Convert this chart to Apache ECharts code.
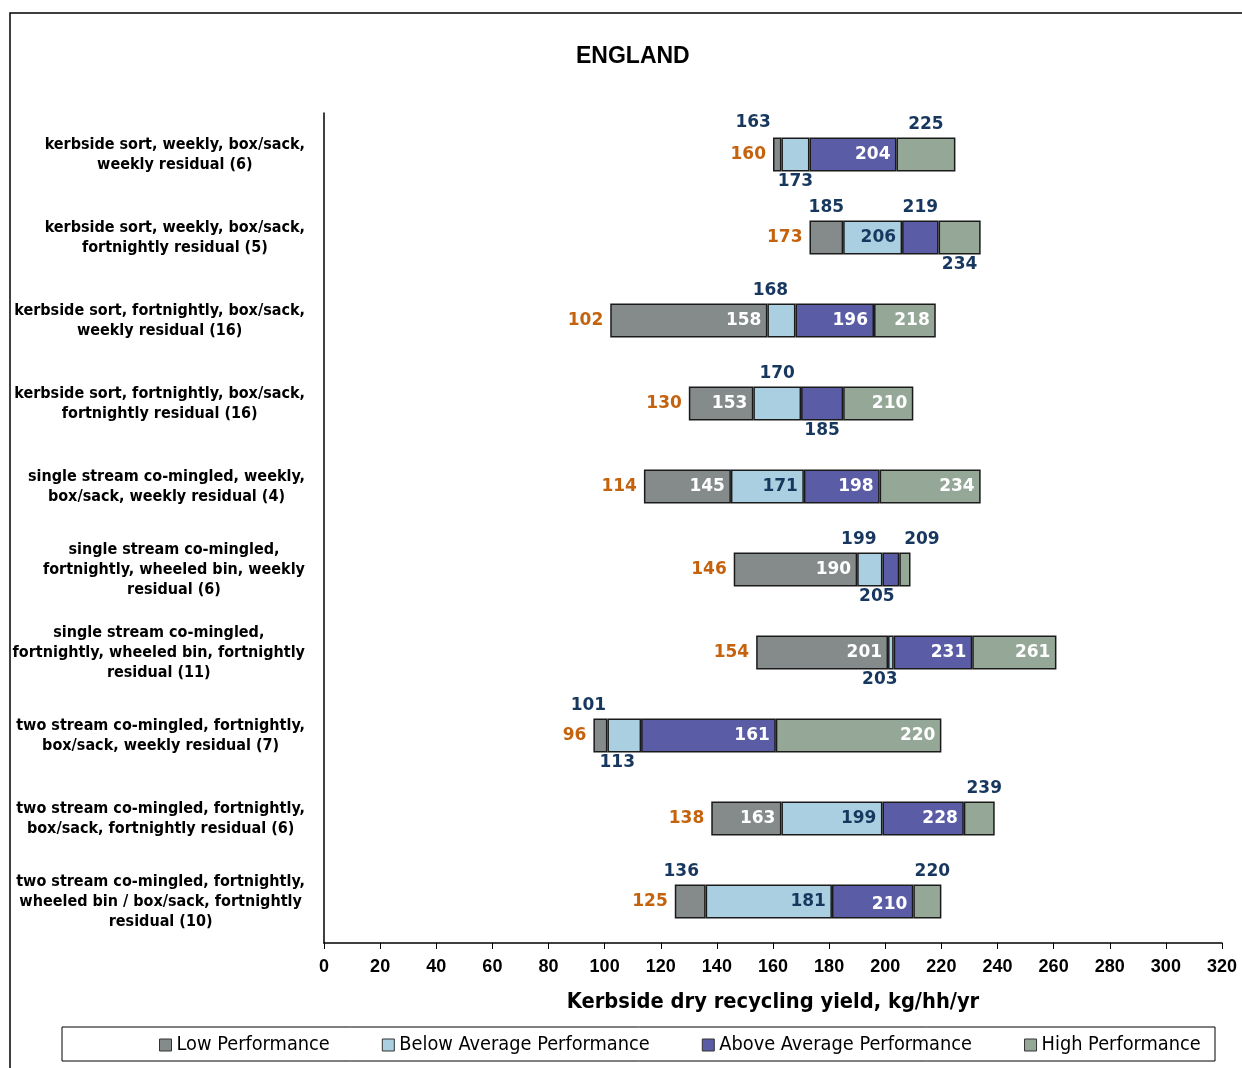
<!DOCTYPE html>
<html>
<head>
<meta charset="utf-8">
<script src="https://cdn.jsdelivr.net/npm/echarts@6/dist/echarts.min.js"></script>
<style>
html, body { margin: 0; padding: 0; background: #fff; }
#chart { width: 1242px; height: 1068px; }
</style>
</head>
<body>
<div id="chart"></div>
<script>
var categories = [
    'kerbside sort, weekly, box/sack,\nweekly residual (6)',
    'kerbside sort, weekly, box/sack,\nfortnightly residual (5)',
    'kerbside sort, fortnightly, box/sack,\nweekly residual (16)',
    'kerbside sort, fortnightly, box/sack,\nfortnightly residual (16)',
    'single stream co-mingled, weekly,\nbox/sack, weekly residual (4)',
    'single stream co-mingled,\nfortnightly, wheeled bin, weekly\nresidual (6)',
    'single stream co-mingled,\nfortnightly, wheeled bin, fortnightly\nresidual (11)',
    'two stream co-mingled, fortnightly,\nbox/sack, weekly residual (7)',
    'two stream co-mingled, fortnightly,\nbox/sack, fortnightly residual (6)',
    'two stream co-mingled, fortnightly,\nwheeled bin / box/sack, fortnightly\nresidual (10)'
];
var minVal = [160, 173, 102, 130, 114, 146, 154, 96, 138, 125];
var q1Val = [163, 185, 158, 153, 145, 190, 201, 101, 163, 136];
var medVal = [173, 206, 168, 170, 171, 199, 203, 113, 199, 181];
var q3Val = [204, 219, 196, 185, 198, 205, 231, 161, 228, 210];
var maxVal = [225, 234, 218, 210, 234, 209, 261, 220, 239, 220];
var seriesNames = ['Low Performance', 'Below Average Performance', 'Above Average Performance', 'High Performance'];
var xTicks = [0, 320, 20];

// where each value label sits: t = above bar, b = below bar, i = inside right
var labelPos = [
    ['t', 't', 'i', 'i', 'i', 'i', 'i', 't', 'i', 't'],
    ['b', 'i', 't', 't', 'i', 't', 'b', 'b', 'i', 'i'],
    ['i', 't', 'i', 'b', 'i', 'b', 'i', 'i', 'i', 'i'],
    ['t', 'b', 'i', 'i', 'i', 't', 'i', 'i', 't', 't']
];
// small nudges so labels don't collide
var labelNudge = {
    '0-0': [-24, -2], '0-7': [-12, 0], '0-9': [-9, 0],
    '1-2': [-11, 0], '1-5': [-11, 0], '1-6': [-11, 0], '1-7': [-7, 0],
    '2-5': [-14, 0], '2-9': [0, 3],
    '3-5': [17, 0], '3-8': [5, 0], '3-9': [5, 0]
};

var colors = ['#858b8b', '#a9cfe0', '#5a5ca6', '#95a898'];
var navy = '#17375e';
var orange = '#c4620d';
var numFont = "'DejaVu Sans', Verdana, sans-serif";
var textFont = "'DejaVu Sans Condensed', 'Noto Sans', sans-serif";

var ends = [q1Val, medVal, q3Val, maxVal];
var starts = [minVal, q1Val, medVal, q3Val];

var series = [{
    name: 'base',
    type: 'bar',
    stack: 'yield',
    barWidth: 34,
    silent: true,
    itemStyle: { color: 'transparent' },
    label: {
        show: true,
        position: 'insideRight',
        distance: 7,
        color: orange,
        fontFamily: numFont,
        fontWeight: 'bold',
        fontSize: 17
    },
    data: minVal
}];

seriesNames.forEach(function (name, s) {
    var data = ends[s].map(function (v, i) {
        var p = labelPos[s][i];
        var nudge = labelNudge[s + '-' + i] || [0, 0];
        var lbl = { offset: nudge };
        if (p === 't') {
            lbl.position = 'top';
            lbl.distance = 4;
            lbl.color = navy;
        } else if (p === 'b') {
            lbl.position = 'bottom';
            lbl.distance = 2;
            lbl.color = navy;
        } else {
            lbl.position = 'insideRight';
            lbl.distance = 6;
            lbl.color = s === 1 ? navy : '#fff';
        }
        return { value: v - starts[s][i], label: lbl };
    });
    series.push({
        name: name,
        type: 'bar',
        stack: 'yield',
        barWidth: 34,
        itemStyle: { color: colors[s], borderColor: '#1a1a1a', borderWidth: 1.5 },
        label: {
            show: true,
            fontFamily: numFont,
            fontWeight: 'bold',
            fontSize: 17,
            formatter: function (p) { return ends[s][p.dataIndex]; }
        },
        data: data
    });
});

var myChart = echarts.init(document.getElementById('chart'));
var option = {
    animation: false,
    title: {
        text: 'ENGLAND',
        left: 576,
        top: 45,
        padding: 0,
        textStyle: { fontFamily: "'Liberation Sans', Arial, sans-serif", fontWeight: 'bold', fontSize: 23, color: '#000' }
    },
    legend: {
        data: seriesNames,
        left: 159,
        top: 1035,
        padding: 0,
        itemGap: 52,
        itemWidth: 12,
        itemHeight: 12,
        icon: 'rect',
        itemStyle: { borderColor: '#333', borderWidth: 1 },
        textStyle: { fontFamily: textFont, fontSize: 19.8, color: '#000' }
    },
    grid: { left: 324, right: 20, top: 113, bottom: 125, containLabel: false },
    xAxis: {
        type: 'value',
        min: xTicks[0],
        max: xTicks[1],
        interval: xTicks[2],
        name: 'Kerbside dry recycling yield, kg/hh/yr',
        nameLocation: 'middle',
        nameGap: 48,
        nameTextStyle: { fontFamily: textFont, fontWeight: 'bold', fontSize: 21.7, color: '#000' },
        axisLine: { show: true, lineStyle: { color: '#000', width: 1.5 } },
        axisTick: { show: true, length: 6, lineStyle: { color: '#000' } },
        splitLine: { show: false },
        axisLabel: {
            margin: 15,
            color: '#000',
            fontFamily: "'Liberation Sans Narrow', 'Liberation Sans', sans-serif",
            fontWeight: 'bold',
            fontSize: 18
        }
    },
    yAxis: {
        type: 'category',
        inverse: true,
        data: categories,
        axisLine: { show: true, lineStyle: { color: '#000', width: 1.5 } },
        axisTick: { show: false },
        axisLabel: {
            margin: 19,
            interval: 0,
            formatter: function (v) {
                return v.split('\n').map(function (l) { return '{c|' + l + '}'; }).join('\n');
            },
            rich: {
                c: {
                    align: 'center',
                    fontFamily: textFont,
                    fontWeight: 'bold',
                    fontSize: 16,
                    lineHeight: 20,
                    color: '#000'
                }
            }
        }
    },
    graphic: [
        { type: 'rect', shape: { x: 10, y: 13, width: 1400, height: 1200 }, style: { fill: 'none', stroke: '#000', lineWidth: 1.5 }, silent: true },
        { type: 'rect', shape: { x: 62, y: 1027, width: 1153, height: 34 }, style: { fill: 'none', stroke: '#000', lineWidth: 1 }, silent: true }
    ],
    series: series
};
myChart.setOption(option);
</script>
</body>
</html>
